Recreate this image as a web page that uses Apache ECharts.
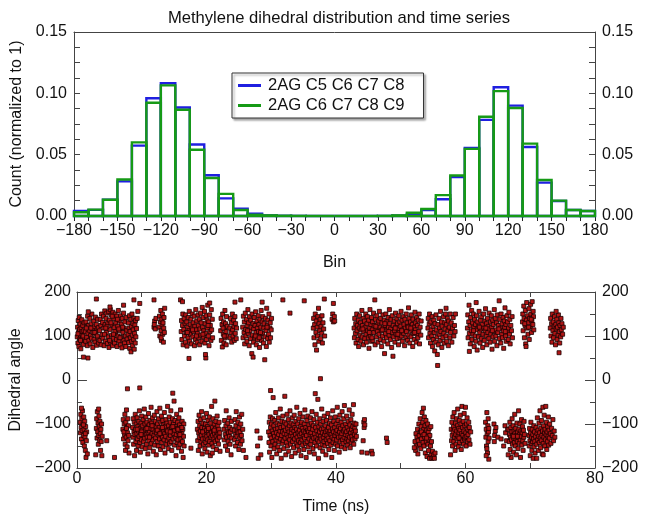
<!DOCTYPE html>
<html>
<head>
<meta charset="utf-8">
<script src="https://cdn.jsdelivr.net/npm/echarts@6/dist/echarts.min.js"></script>
<style>
html,body{margin:0;padding:0;background:#fff;}
#chart{width:648px;height:527px;}
</style>
</head>
<body>
<div id="chart"></div>
<script>
// ---------- DATA ----------
const chartTitle = 'Methylene dihedral distribution and time series';
const seriesNames = ['2AG C5 C6 C7 C8', '2AG C6 C7 C8 C9'];
const binLeftEdges = [-180,-170,-160,-150,-140,-130,-120,-110,-100,-90,-80,-70,-60,-50,-40,-30,-20,-10,0,10,20,30,40,50,60,70,80,90,100,110,120,130,140,150,160,170];
const binWidth = 10;
const countsC5C6C7C8 = [0.0041,0.0050,0.0133,0.0282,0.0574,0.0960,0.1082,0.0885,0.0583,0.0332,0.0144,0.0060,0.0019,0.0005,0.0002,0.0001,0,0,0,0,0,0.0001,0.0004,0.0016,0.0049,0.0136,0.0318,0.0555,0.0784,0.1050,0.0900,0.0563,0.0272,0.0122,0.0049,0.0041];
const countsC6C7C8C9 = [0.0030,0.0052,0.0133,0.0297,0.0600,0.0923,0.1065,0.0866,0.0540,0.0310,0.0180,0.0049,0.0010,0.0005,0.0002,0.0001,0,0,0,0,0,0.0001,0.0005,0.0027,0.0057,0.0170,0.0330,0.0547,0.0809,0.1018,0.0880,0.0590,0.0294,0.0125,0.0049,0.0041];
const histXTicks = {min:-180, max:180, step:30};
const histYTicks = {min:0, max:0.15, step:0.05};
const timeTicks = {min:0, max:80, step:20};
const angleTicks = {min:-200, max:200, step:100};

// time (ns), dihedral angle (deg) samples: upper band
const upperBandSamples = [
[0.05,98],[0.1,120],[0.15,84],[0.2,135],[0.25,108],[0.3,76],[0.35,142],[0.4,115],[0.45,93],[0.5,127],[0.55,102],[0.6,71],[0.65,118],[0.7,88],[0.75,137],[0.8,110],[0.85,96],[0.9,124],[1.0,81],[1.05,112],[1.1,130],[0.95,100],[0.15,105],[0.55,90],[1.0,52],
[1.3,110],[1.35,88],[1.4,132],[1.5,97],[1.55,120],[1.6,78],[1.65,145],[1.7,106],[1.8,124],[1.85,90],[1.9,113],[2.0,140],[2.05,82],[2.1,101],[2.2,128],[2.25,95],[2.3,150],[2.4,117],[2.45,74],[2.5,108],[2.6,134],[2.65,92],[2.7,121],[2.8,86],[2.85,143],[2.9,104],[3.0,126],[3.05,79],[3.1,114],[3.2,138],[3.25,96],[3.3,119],[3.35,84],[1.75,155],[2.15,118],[2.75,108],[3.15,100],[1.45,118],[1.7,50],[3.0,184],
[3.5,112],[3.55,90],[3.6,138],[3.7,124],[3.75,80],[3.8,150],[3.9,103],[3.95,131],[4.0,95],[4.1,145],[4.15,118],[4.2,78],[4.3,157],[4.35,126],[4.4,88],[4.5,140],[4.55,108],[4.6,152],[4.7,83],[4.75,130],[4.8,98],[4.9,155],[4.95,74],[5.0,136],[5.1,115],[5.15,160],[5.2,86],[5.3,148],[5.35,102],[5.4,125],[5.5,78],[5.55,154],[5.6,95],[5.7,140],[5.75,119],[5.8,84],[5.9,150],[5.95,106],[6.0,130],[6.1,92],[6.15,145],[6.2,76],[6.3,122],[6.35,100],[6.4,158],[6.5,88],[6.55,134],[6.6,112],[6.7,80],[6.75,146],[6.8,97],[6.9,127],[6.95,73],[7.0,140],[7.1,108],[7.15,90],[7.2,152],[7.3,118],[7.35,84],[7.4,132],[7.5,100],[7.55,76],[7.6,142],[7.7,113],[7.75,93],[4.25,104],[4.65,122],[5.05,90],[5.45,145],[5.85,110],[6.25,138],[6.65,96],[7.05,120],[5.25,130],[4.45,118],[5.65,104],[6.45,116],[7.2,170],[5.1,166],
[7.9,104],[7.95,130],[8.0,85],[8.05,118],[8.1,146],[8.15,72],[8.2,110],[8.25,96],[8.3,138],[8.35,64],[8.4,122],[8.45,88],[8.5,150],[8.55,102],[8.6,78],[8.65,128],[8.7,114],[8.75,92],[8.8,140],[8.85,70],[8.9,106],[8.95,125],[9.0,84],[9.05,135],[9.1,98],[9.2,117],[8.8,182],[9.7,174],[9.4,156],[9.3,140],
[11.9,182],[11.9,120],[12.0,134],[12.1,116],[12.2,140],[11.95,126],
[12.7,120],[12.75,145],[12.8,100],[12.9,132],[12.95,158],[13.0,112],[13.05,90],[13.1,138],[13.15,125],[13.2,150],[13.25,104],[13.3,130],[13.35,86],[13.4,118],[13.45,142],[13.5,108],[13.55,163],[13.0,96],
[16.0,182],[16.3,178],[16.1,110],[16.15,135],[16.2,92],[16.3,124],[16.35,150],[16.4,80],[16.5,115],[16.55,140],[16.6,100],[16.7,128],[16.75,86],[16.8,148],[16.9,108],[16.95,132],[17.0,77],[17.1,120],[17.15,96],[17.2,142],[17.3,112],[17.35,156],[17.4,88],[17.5,126],[17.55,104],[17.6,138],[17.7,82],[17.75,118],[17.8,150],[17.9,98],[17.95,130],[18.0,110],[18.1,145],[18.15,78],[18.2,122],[18.3,92],[18.35,160],[18.4,114],[18.5,134],[18.55,86],[18.6,106],[18.7,148],[18.75,124],[18.8,96],[18.9,138],[18.95,80],[19.0,116],[19.1,152],[19.15,102],[19.2,130],[19.3,88],[19.35,165],[19.4,120],[19.5,142],[19.55,98],[19.6,112],[19.7,156],[19.75,84],[19.8,128],[19.9,106],[19.95,146],[20.0,92],[20.1,136],[20.15,118],[20.2,170],[20.3,100],[20.35,132],[20.4,78],[20.5,148],[20.55,110],[20.6,124],[20.7,90],[20.75,160],[20.8,114],[20.9,138],[20.95,96],[17.3,49],[19.9,50],[19.85,58],[20.5,175],[17.05,108],[18.45,100],[19.45,104],[17.85,114],[20.25,124],
[22.2,112],[22.25,140],[22.3,90],[22.4,126],[22.45,75],[22.5,150],[22.6,104],[22.65,132],[22.7,84],[22.8,118],[22.85,158],[22.9,96],[22.95,128],[23.0,110],[23.05,80],[23.1,144],[23.15,100],[23.2,122],[22.55,118],[22.75,100],
[23.6,118],[23.65,96],[23.7,140],[23.8,108],[23.85,130],[23.9,86],[24.0,150],[24.05,114],[24.1,100],[24.2,136],[24.25,122],[24.3,90],[24.4,144],[24.45,106],[24.5,128],[24.6,94],[24.65,118],[24.4,177],[25.3,182],
[25.6,120],[25.65,96],[25.7,145],[25.8,108],[25.85,132],[25.9,82],[26.0,152],[26.05,115],[26.1,100],[26.2,138],[26.25,88],[26.3,124],[26.4,160],[26.45,106],[26.5,130],[26.6,78],[26.65,144],[26.7,112],[26.8,94],[26.85,136],[26.9,120],[27.0,60],[27.05,150],[27.1,102],[27.2,128],[27.25,86],[27.3,116],[27.4,142],[27.45,96],[27.5,124],[27.6,155],[27.65,108],[27.7,80],[27.8,134],[27.85,118],[27.9,92],[28.0,146],[28.05,110],[28.1,126],[28.2,74],[28.25,138],[28.3,100],[28.4,120],[28.45,158],[28.5,90],[28.6,132],[28.65,106],[28.7,144],[28.8,84],[28.85,118],[28.9,128],[29.0,46],[29.05,98],[29.1,140],[29.2,112],[29.25,76],[29.3,163],[29.4,124],[29.45,94],[29.5,136],[29.6,104],[29.65,150],[29.7,86],[29.8,118],[29.85,130],[29.9,96],[30.0,114],[30.05,140],[28.6,177],[27.2,52],[26.35,112],[27.55,100],[28.35,108],[29.35,120],[28.15,96],
[31.8,182],[32.9,152],[35.1,180],
[36.5,118],[36.55,140],[36.6,96],[36.7,126],[36.75,80],[36.8,150],[36.9,108],[36.95,134],[37.0,68],[37.1,120],[37.15,100],[37.2,144],[37.3,163],[37.35,88],[37.4,128],[37.5,112],[37.55,138],[37.6,3],[37.65,94],[37.7,122],[37.8,106],[37.85,146],[37.9,84],[38.0,130],[38.1,116],[38.2,184],[38.25,100],[39.6,174],
[39.4,138],[39.5,150],[39.6,132],[39.75,144],[39.8,134],
[42.8,118],[42.85,96],[42.9,140],[43.0,106],[43.05,128],[43.1,84],[43.2,150],[43.25,112],[43.3,124],[43.4,92],[43.45,136],[43.5,76],[43.6,118],[43.65,146],[43.7,102],[43.8,130],[43.85,88],[43.9,114],[44.0,158],[44.05,98],[44.1,124],[44.2,140],[44.25,80],[44.3,110],[44.4,134],[44.45,94],[44.5,120],[44.6,150],[44.65,104],[44.7,86],[44.8,128],[44.85,144],[44.9,112],[45.0,96],[45.05,136],[45.1,72],[45.2,118],[45.25,160],[45.3,100],[45.4,126],[45.45,88],[45.5,142],[45.6,114],[45.65,132],[45.7,90],[45.8,152],[45.85,108],[45.9,124],[46.0,182],[46.05,80],[46.1,138],[46.2,116],[46.25,98],[46.3,146],[46.4,110],[46.45,128],[46.5,86],[46.6,134],[46.65,104],[46.7,156],[46.8,120],[46.85,92],[46.9,140],[47.0,112],[47.05,76],[47.1,130],[47.2,100],[47.25,148],[47.3,118],[47.4,88],[47.45,136],[47.5,60],[47.6,124],[47.65,106],[47.7,150],[47.8,96],[47.85,132],[47.9,114],[48.0,82],[48.05,142],[48.1,120],[48.2,102],[48.25,160],[48.3,128],[48.4,92],[48.45,116],[48.5,138],[48.6,74],[48.65,108],[48.7,146],[48.8,54],[48.85,124],[48.9,98],[49.0,134],[49.05,112],[49.1,86],[49.2,152],[49.25,120],[49.3,104],[49.4,140],[49.45,94],[49.5,128],[49.6,116],[49.65,80],[49.7,146],[49.8,108],[49.85,132],[49.9,96],[50.0,122],[50.05,156],[50.1,100],[50.2,136],[50.25,88],[50.3,114],[50.4,144],[50.45,106],[50.5,126],[50.6,78],[50.65,138],[50.7,118],[50.8,96],[50.85,150],[50.9,110],[51.0,130],[51.05,90],[51.1,122],[51.2,164],[51.25,102],[51.3,140],[51.4,84],[51.45,116],[51.5,132],[51.6,98],[51.65,148],[51.7,112],[51.8,126],[51.85,76],[51.9,138],[52.0,106],[52.05,120],[52.1,92],[52.2,154],[52.25,114],[52.3,130],[52.4,86],[52.45,142],[52.5,104],[52.6,124],[52.65,96],[52.7,136],[52.8,110],[52.85,150],[52.9,82],[53.0,120],[53.1,102],[53.15,134],[44.15,116],[45.15,108],[46.15,122],[47.15,114],[48.15,110],[49.15,118],[50.15,112],[51.15,120],[52.15,108],[45.55,96],[47.55,128],[49.55,104],[51.55,118],
[54.2,118],[54.25,140],[54.3,96],[54.4,128],[54.45,150],[54.5,106],[54.6,84],[54.65,132],[54.7,114],[54.8,100],[54.85,144],[54.9,76],[55.0,122],[55.05,92],[55.1,136],[55.2,108],[55.25,66],[55.3,128],[55.4,86],[55.45,148],[55.5,114],[55.6,98],[55.65,58],[55.7,33],[55.75,126],[55.8,80],[55.9,140],[55.95,104],[56.0,118],[56.1,90],[56.15,156],[56.2,110],[56.3,132],[56.35,74],[56.4,122],[56.5,96],[56.6,144],[56.65,106],[56.7,84],[56.8,130],[56.85,116],[56.9,150],[57.0,100],[57.05,126],[57.1,88],[57.2,140],[57.3,112],[57.35,78],[57.4,134],[57.5,120],[57.6,96],[57.65,150],[57.7,108],[57.8,130],[57.9,86],[58.0,118],[58.1,142],[58.2,100],[58.3,124],[58.4,110],[58.45,150],[57.0,163],
[60.3,118],[60.35,148],[60.4,96],[60.5,132],[60.55,170],[60.6,106],[60.7,124],[60.75,82],[60.8,142],[60.9,112],[60.95,158],[61.0,92],[61.1,130],[61.15,104],[61.2,150],[61.3,120],[61.35,76],[61.4,138],[61.5,100],[61.55,126],[61.6,88],[61.7,146],[61.75,114],[61.8,68],[61.9,132],[62.0,98],[62.05,122],[62.1,156],[62.2,108],[62.25,84],[62.3,136],[62.4,116],[62.45,94],[62.5,144],[62.6,126],[62.65,74],[62.7,104],[62.8,150],[62.85,118],[62.9,90],[63.0,134],[63.05,112],[63.1,162],[63.2,100],[63.25,128],[63.3,80],[63.4,140],[63.45,108],[63.5,122],[63.6,94],[63.65,152],[63.7,116],[63.8,86],[63.85,132],[63.9,104],[64.0,146],[64.05,120],[64.1,70],[64.2,136],[64.25,98],[64.3,126],[64.4,110],[64.45,160],[64.5,88],[64.6,140],[64.65,114],[64.7,100],[64.8,130],[64.85,78],[64.9,148],[65.0,108],[65.1,124],[65.2,180],[65.25,94],[65.3,138],[65.4,118],[65.45,84],[65.5,150],[65.6,104],[65.65,128],[65.7,96],[65.8,142],[65.85,112],[65.9,72],[66.0,134],[66.05,120],[66.1,164],[66.2,100],[66.25,126],[66.3,88],[66.4,146],[66.45,110],[66.5,132],[66.6,92],[66.65,118],[66.7,154],[66.8,104],[66.85,138],[66.9,82],[67.0,124],[67.1,112],[67.2,144],[67.25,96],[61.25,112],[62.15,120],[63.15,118],[64.15,112],[65.15,116],[66.15,110],[61.65,176],[60.6,65],
[68.8,132],[68.85,150],[68.9,112],[69.0,168],[69.05,140],[69.1,96],[69.2,124],[69.25,158],[69.3,82],[69.4,136],[69.45,176],[69.5,118],[69.6,146],[69.65,104],[69.7,130],[69.8,162],[69.85,92],[69.9,140],[70.0,120],[70.05,172],[70.1,150],[70.2,108],[70.25,134],[70.3,178],[70.4,126],[70.45,156],[70.5,144],[70.55,114],[69.35,76],[69.15,128],[69.75,120],[70.15,138],
[73.1,118],[73.15,140],[73.2,100],[73.3,128],[73.35,86],[73.4,150],[73.5,112],[73.55,132],[73.6,96],[73.7,122],[73.75,144],[73.8,106],[73.9,80],[73.95,126],[74.0,116],[74.1,138],[74.15,92],[74.2,120],[74.3,102],[74.35,148],[74.4,130],[74.5,110],[74.55,84],[74.6,124],[74.7,98],[74.75,140],[74.8,114],[74.9,128],[75.0,104],[75.1,120],[74.45,62],[74.0,156]
];

// time (ns), dihedral angle (deg) samples: lower band
const lowerBandSamples = [
[0.5,-96],[0.55,-120],[0.6,-78],[0.65,-108],[0.7,-134],[0.75,-88],[0.8,-115],[0.85,-70],[0.9,-142],[0.95,-100],[1.0,-126],[1.05,-84],[1.1,-112],[1.15,-150],[1.2,-94],[1.25,-130],[1.3,-160],[1.35,-106],[1.4,-176],[1.45,-138],[1.5,-118],[1.6,-168],[0.7,-64],[1.0,-102],[1.3,-122],
[3.0,-110],[3.05,-88],[3.1,-132],[3.15,-72],[3.2,-118],[3.25,-98],[3.3,-146],[3.35,-126],[3.4,-82],[3.45,-106],[3.5,-138],[3.55,-94],[3.6,-122],[3.65,-160],[3.7,-112],[3.75,-140],[3.8,-100],[3.85,-172],[3.9,-128],[3.35,-66],[4.6,-138],[2.9,-170],[5.8,-176],[7.8,-20],[9.7,-18],
[7.1,-112],[7.15,-90],[7.2,-134],[7.3,-100],[7.35,-124],[7.4,-78],[7.45,-146],[7.5,-116],[7.55,-96],[7.6,-130],[7.65,-68],[7.7,-108],[7.75,-152],[7.8,-120],[7.85,-88],[7.9,-138],[7.95,-104],[8.0,-126],[8.05,-166],[7.5,-160],[7.25,-118],[7.65,-110],
[8.6,-108],[8.65,-130],[8.7,-88],[8.75,-146],[8.8,-118],[8.85,-96],[8.9,-172],[8.95,-124],[9.0,-78],[9.05,-112],[9.1,-140],[9.15,-100],[9.2,-160],[9.25,-122],[9.3,-86],[9.35,-134],[9.4,-106],[9.45,-150],[9.5,-116],[9.55,-94],[9.6,-128],[9.65,-70],[9.7,-142],[9.75,-110],[9.8,-164],[9.85,-120],[9.9,-98],[9.95,-136],[10.0,-82],[10.05,-114],[10.1,-152],[10.15,-104],[10.2,-126],[10.25,-90],[10.3,-140],[10.35,-118],[10.4,-66],[10.45,-132],[10.5,-100],[10.55,-156],[10.6,-112],[10.65,-84],[10.7,-124],[10.75,-146],[10.8,-96],[10.85,-130],[10.9,-108],[10.95,-168],[11.0,-120],[11.05,-76],[11.1,-138],[11.15,-102],[11.2,-116],[11.25,-154],[11.3,-92],[11.35,-128],[11.4,-110],[11.45,-62],[11.5,-144],[11.55,-98],[11.6,-122],[11.65,-86],[11.7,-136],[11.75,-112],[11.8,-162],[11.85,-104],[11.9,-126],[11.95,-80],[12.0,-148],[12.05,-118],[12.1,-94],[12.15,-132],[12.2,-106],[12.25,-170],[12.3,-120],[12.35,-72],[12.4,-140],[12.45,-100],[12.5,-114],[12.55,-150],[12.6,-88],[12.65,-126],[12.7,-108],[12.75,-134],[12.8,-64],[12.85,-116],[12.9,-158],[12.95,-96],[13.0,-124],[13.05,-82],[13.1,-142],[13.15,-110],[13.2,-130],[13.25,-92],[13.3,-152],[13.35,-118],[13.4,-102],[13.45,-136],[13.5,-74],[13.55,-122],[13.6,-166],[13.65,-106],[13.7,-128],[13.75,-90],[13.8,-146],[13.85,-114],[13.9,-98],[13.95,-138],[14.0,-60],[14.05,-120],[14.1,-156],[14.15,-104],[14.2,-132],[14.25,-84],[14.3,-144],[14.35,-112],[14.4,-96],[14.45,-126],[14.5,-70],[14.55,-140],[14.6,-108],[14.65,-160],[14.7,-118],[14.75,-88],[14.8,-30],[14.85,-134],[14.9,-100],[14.95,-122],[15.0,-48],[15.05,-148],[15.1,-114],[15.15,-92],[15.2,-130],[15.25,-106],[15.3,-172],[15.35,-124],[15.4,-78],[15.45,-142],[15.5,-110],[15.55,-96],[15.6,-136],[15.65,-118],[15.7,-154],[15.75,-86],[15.8,-126],[15.85,-102],[15.9,-146],[15.95,-116],[16.0,-68],[16.05,-134],[16.1,-108],[16.15,-162],[16.2,-122],[16.25,-94],[16.3,-140],[16.35,-112],[16.4,-176],[16.45,-128],[16.5,-100],[16.55,-150],[9.3,-112],[10.0,-118],[10.8,-110],[11.6,-104],[12.4,-114],[13.2,-108],[14.0,-116],[14.8,-106],[15.6,-112],[16.2,-108],[9.9,-124],[11.2,-130],[12.8,-122],[14.4,-118],[15.9,-124],[17.6,-155],
[18.6,-112],[18.65,-138],[18.7,-94],[18.75,-160],[18.8,-120],[18.85,-80],[18.9,-130],[18.95,-104],[19.0,-150],[19.05,-116],[19.1,-90],[19.15,-140],[19.2,-126],[19.25,-72],[19.3,-108],[19.35,-168],[19.4,-134],[19.45,-98],[19.5,-118],[19.55,-146],[19.6,-86],[19.65,-124],[19.7,-110],[19.75,-156],[19.8,-132],[19.85,-100],[19.9,-142],[19.95,-114],[20.0,-76],[20.05,-128],[20.1,-164],[20.15,-106],[20.2,-136],[20.25,-92],[20.3,-118],[20.35,-148],[20.4,-124],[20.45,-84],[20.5,-140],[20.55,-112],[20.6,-172],[20.65,-98],[20.7,-130],[20.75,-120],[20.8,-60],[20.85,-144],[20.9,-108],[20.95,-126],[21.0,-88],[21.05,-152],[21.1,-116],[21.15,-134],[21.2,-100],[21.25,-122],[21.3,-48],[21.35,-140],[21.4,-110],[21.45,-94],[21.5,-128],[21.55,-158],[21.6,-118],[21.65,-82],[21.7,-136],[21.75,-104],[21.8,-124],[21.85,-146],[21.9,-112],[21.95,-96],[22.0,-130],[22.05,-120],[22.1,-162],[19.4,-118],[20.3,-110],[21.2,-114],[20.9,-166],
[22.7,-112],[22.75,-136],[22.8,-92],[22.9,-124],[22.95,-150],[23.0,-104],[23.05,-70],[23.1,-130],[23.2,-116],[23.25,-160],[23.3,-98],[23.35,-140],[23.4,-120],[23.5,-86],[23.55,-128],[23.6,-108],[23.65,-146],[23.7,-118],[23.8,-170],[23.85,-94],[23.9,-132],[23.95,-112],
[24.3,-114],[24.35,-136],[24.4,-90],[24.45,-124],[24.5,-150],[24.55,-104],[24.6,-72],[24.7,-128],[24.75,-116],[24.8,-142],[24.85,-96],[24.9,-120],[25.0,-158],[25.05,-108],[25.1,-84],[25.15,-132],[25.2,-118],[25.25,-146],[25.3,-100],[25.4,-126],[25.45,-78],[25.5,-138],[25.6,-112],[25.7,-160],[26.1,-176],
[27.8,-116],[27.9,-150],[28.0,-178],[28.3,-132],[28.4,-170],[29.9,-24],
[29.6,-118],[29.65,-142],[29.7,-96],[29.75,-164],[29.8,-126],[29.85,-84],[29.9,-108],[29.95,-150],[30.0,-132],[30.05,-100],[30.1,-176],[30.15,-116],[30.2,-88],[30.25,-140],[30.3,-40],[30.35,-122],[30.4,-104],[30.45,-156],[30.5,-128],[30.55,-92],[30.6,-146],[30.65,-112],[30.7,-74],[30.75,-136],[30.8,-120],[30.85,-168],[30.9,-98],[30.95,-130],[31.0,-110],[31.05,-152],[31.1,-86],[31.15,-124],[31.2,-140],[31.25,-102],[31.3,-160],[31.35,-116],[31.4,-66],[31.45,-134],[31.5,-108],[31.55,-178],[31.6,-126],[31.65,-94],[31.7,-144],[31.75,-118],[31.8,-82],[31.85,-138],[31.9,-106],[31.95,-156],[32.0,-122],[32.05,-96],[32.1,-37],[32.15,-132],[32.2,-114],[32.25,-170],[32.3,-100],[32.35,-142],[32.4,-124],[32.45,-78],[32.5,-150],[32.55,-110],[32.6,-130],[32.65,-90],[32.7,-162],[32.75,-118],[32.8,-104],[32.85,-136],[32.9,-70],[32.95,-126],[33.0,-146],[33.05,-98],[33.1,-120],[33.15,-174],[33.2,-112],[33.25,-86],[33.3,-140],[33.35,-128],[33.4,-102],[33.45,-154],[33.5,-116],[33.55,-80],[33.6,-134],[33.65,-108],[33.7,-166],[33.75,-124],[33.8,-94],[33.85,-144],[33.9,-112],[33.95,-62],[34.0,-130],[34.05,-150],[34.1,-100],[34.15,-120],[34.2,-138],[34.25,-88],[34.3,-160],[34.35,-114],[34.4,-126],[34.45,-76],[34.5,-142],[34.55,-106],[34.6,-172],[34.65,-122],[34.7,-96],[34.75,-136],[34.8,-110],[34.85,-148],[34.9,-84],[34.95,-128],[35.0,-116],[35.05,-158],[35.1,-100],[35.15,-132],[35.2,-68],[35.25,-120],[35.3,-144],[35.35,-108],[35.4,-176],[35.45,-126],[35.5,-92],[35.55,-140],[35.6,-114],[35.65,-82],[35.7,-152],[35.75,-118],[35.8,-102],[35.85,-134],[35.9,-164],[35.95,-110],[36.0,-124],[36.05,-86],[36.1,-146],[36.15,-120],[36.2,-98],[36.25,-138],[36.3,-72],[36.35,-128],[36.4,-112],[36.45,-156],[36.5,-104],[36.55,-132],[36.6,-90],[36.65,-168],[36.7,-122],[36.75,-142],[36.8,-31],[36.85,-108],[36.9,-130],[36.95,-78],[37.0,-150],[37.05,-116],[37.1,-96],[37.15,-136],[37.2,-44],[37.25,-124],[37.3,-178],[37.35,-106],[37.4,-140],[37.45,-118],[37.5,-88],[37.55,-154],[37.6,-128],[37.65,-100],[37.7,-134],[37.75,-112],[37.8,-66],[37.85,-146],[37.9,-120],[37.95,-162],[38.0,-94],[38.05,-130],[38.1,-110],[38.15,-140],[38.2,-82],[38.25,-124],[38.3,-150],[38.35,-104],[38.4,-118],[38.45,-170],[38.5,-136],[38.55,-92],[38.6,-126],[38.65,-114],[38.7,-144],[38.75,-76],[38.8,-132],[38.85,-108],[38.9,-158],[38.95,-120],[39.0,-98],[39.05,-138],[39.1,-116],[39.15,-86],[39.2,-148],[39.25,-124],[39.3,-102],[39.35,-176],[39.4,-130],[39.45,-112],[39.5,-70],[39.55,-142],[39.6,-118],[39.65,-94],[39.7,-134],[39.75,-160],[39.8,-108],[39.85,-126],[39.9,-84],[39.95,-146],[40.0,-120],[40.05,-100],[40.1,-136],[40.15,-114],[40.2,-62],[40.25,-150],[40.3,-124],[40.35,-92],[40.4,-130],[40.45,-106],[40.5,-164],[40.55,-118],[40.6,-80],[40.65,-140],[40.7,-110],[40.75,-128],[40.8,-96],[40.85,-152],[40.9,-122],[40.95,-72],[41.0,-136],[41.05,-104],[41.1,-144],[41.15,-116],[41.2,-88],[41.25,-130],[41.3,-58],[41.35,-112],[41.4,-156],[41.45,-124],[41.5,-100],[41.55,-140],[41.6,-118],[41.65,-82],[41.7,-134],[41.75,-108],[41.8,-148],[41.85,-126],[41.9,-94],[41.95,-138],[42.0,-114],[42.05,-68],[42.1,-130],[42.15,-102],[42.2,-154],[42.25,-120],[42.3,-90],[42.35,-142],[42.4,-112],[42.45,-128],[42.5,-78],[42.55,-136],[42.6,-106],[42.65,-120],[42.7,-56],[42.75,-146],[42.8,-98],[42.85,-124],[42.9,-110],[42.95,-134],[43.0,-116],[43.1,-100],[43.15,-128],
[44.2,-138],[44.3,-96],[44.35,-108],[44.4,-90],[44.45,-102],[44.0,-164],[44.8,-166],[45.5,-162],[45.6,-168],[47.8,-132],[47.9,-142],
[52.2,-140],[52.3,-160],[52.35,-122],[52.4,-150],[52.5,-130],[52.6,-112],[52.65,-168],[52.7,-138],[52.8,-100],[52.85,-126],[52.9,-146],[53.0,-88],[53.05,-118],[53.1,-156],[53.15,-106],[53.2,-134],[53.3,-74],[53.35,-124],[53.4,-96],[53.45,-142],[53.5,-64],[53.55,-112],[53.6,-150],[53.65,-84],[53.7,-130],[53.75,-104],[53.8,-166],[53.85,-120],[53.9,-92],[53.95,-140],[54.0,-114],[54.05,-174],[54.1,-128],[54.15,-100],[54.2,-146],[54.25,-118],[54.3,-160],[54.35,-136],[54.4,-110],[54.45,-178],[54.5,-126],[54.6,-150],[54.65,-106],[54.7,-170],[54.75,-140],[54.8,-178],[54.9,-162],[55.0,-176],[55.1,-170],[55.2,-178],[55.3,-166],[53.2,-118],[53.6,-124],[54.0,-132],[52.1,-154],
[57.8,-112],[57.85,-138],[57.9,-96],[57.95,-126],[58.0,-150],[58.05,-84],[58.1,-118],[58.15,-106],[58.2,-140],[58.25,-74],[58.3,-130],[58.35,-112],[58.4,-160],[58.45,-98],[58.5,-124],[58.55,-146],[58.6,-88],[58.65,-116],[58.7,-134],[58.75,-104],[58.8,-66],[58.85,-128],[58.9,-152],[58.95,-110],[59.0,-120],[59.05,-92],[59.1,-142],[59.15,-114],[59.2,-80],[59.25,-132],[59.3,-100],[59.35,-158],[59.4,-122],[59.45,-60],[59.5,-138],[59.55,-108],[59.6,-126],[59.65,-94],[59.7,-146],[59.75,-116],[59.8,-76],[59.85,-134],[59.9,-104],[59.95,-130],[60.0,-62],[60.05,-120],[60.1,-150],[60.15,-100],[60.2,-128],[60.25,-86],[60.3,-140],[60.35,-112],[60.4,-124],[60.5,-96],[60.55,-136],[60.6,-108],[60.7,-146],[60.8,-118],[57.7,-170],[59.0,-132],
[63.1,-96],[63.15,-130],[63.2,-112],[63.25,-150],[63.3,-74],[63.35,-122],[63.4,-166],[63.45,-104],[63.5,-140],[63.55,-118],[63.6,-180],[63.65,-132],[63.3,-156],[63.5,-88],[63.2,-172],[63.6,-110],
[64.4,-100],[64.5,-126],[64.6,-116],[64.7,-108],[65.0,-130],[64.45,-140],[66.1,-104],[66.2,-120],[66.35,-138],[66.5,-112],[65.5,-134],[65.9,-150],
[66.7,-112],[66.75,-140],[66.8,-124],[66.85,-96],[66.9,-158],[66.95,-130],[67.0,-108],[67.05,-176],[67.1,-136],[67.15,-118],[67.2,-88],[67.25,-146],[67.3,-126],[67.35,-104],[67.4,-164],[67.45,-132],[67.5,-116],[67.55,-142],[67.6,-78],[67.65,-122],[67.7,-150],[67.75,-110],[67.8,-134],[67.85,-170],[67.9,-126],[67.95,-98],[68.0,-140],[68.05,-118],[68.1,-156],[68.15,-130],[68.2,-70],[68.25,-112],[68.3,-144],[68.35,-124],[68.4,-100],[68.45,-136],[68.5,-176],[68.55,-116],[68.6,-128],[68.65,-90],[68.7,-148],[68.75,-120],[68.8,-106],[68.85,-138],[68.9,-160],[68.95,-114],[69.0,-130],[69.05,-94],[69.1,-124],[69.2,-144],[68.0,-128],[67.4,-128],[66.6,-170],
[69.8,-126],[69.85,-150],[69.9,-110],[69.95,-138],[70.0,-172],[70.05,-120],[70.1,-96],[70.15,-144],[70.2,-130],[70.25,-160],[70.3,-112],[70.35,-140],[70.4,-124],[70.45,-178],[70.5,-134],[70.55,-104],[70.6,-152],[70.65,-118],[70.7,-140],[70.75,-166],[70.8,-128],[70.9,-108],[71.0,-146],[71.05,-122],[71.1,-86],[71.15,-136],[71.2,-114],[71.25,-160],[71.3,-128],[71.35,-98],[71.4,-142],[71.45,-120],[71.5,-70],[71.55,-132],[71.6,-154],[71.65,-110],[71.7,-138],[71.75,-92],[71.8,-126],[71.85,-168],[71.9,-116],[71.95,-62],[72.0,-144],[72.05,-104],[72.1,-130],[72.15,-80],[72.2,-120],[72.25,-150],[72.3,-112],[72.35,-136],[72.4,-60],[72.45,-124],[72.5,-96],[72.55,-158],[72.6,-118],[72.65,-140],[72.7,-106],[72.75,-128],[72.8,-84],[72.85,-148],[72.9,-114],[72.95,-132],[73.0,-100],[73.1,-122],[73.2,-144],[73.3,-110],[73.4,-126],[73.5,-90],[73.6,-138],[73.7,-116],[73.8,-130],[71.0,-178],[72.0,-170]
];

// ---------- CHART ----------
const FONT = '"Liberation Sans", Arial, sans-serif';
const TXT = '#111';
const AX = '#444';
const colors = ['#1f1fe0', '#169a16'];

function minus(v){ return v < 0 ? '\u2212' + Math.abs(v) : String(v); }

function histData(values){
  return binLeftEdges.map((b, i) => [b, b + binWidth, values[i]]);
}
function renderBin(color){
  return function(params, api){
    const p0 = api.coord([api.value(0), api.value(2)]);
    const p1 = api.coord([api.value(1), 0]);
    return {
      type: 'rect',
      shape: {x: p0[0], y: p0[1], width: p1[0] - p0[0], height: p1[1] - p0[1]},
      style: {fill: 'none', stroke: color, lineWidth: 2.4}
    };
  };
}

const baseLabel = {fontFamily: FONT, fontSize: 16, color: TXT};

const option = {
  animation: false,
  backgroundColor: '#fff',
  textStyle: {fontFamily: FONT},
  title: {
    text: chartTitle, left: 334, top: 5, textAlign: 'center',
    textStyle: {fontFamily: FONT, fontSize: 16.6, fontWeight: 'normal', color: TXT}
  },
  legend: {
    orient: 'vertical', left: 232, top: 73,
    data: seriesNames.map(n => ({name: n, icon: 'rect'})),
    itemWidth: 23, itemHeight: 3, itemGap: 3,
    padding: [4, 19, 4, 6],
    borderColor: '#333', borderWidth: 1, backgroundColor: '#fff',
    shadowColor: 'rgba(0,0,0,0.35)', shadowBlur: 2, shadowOffsetX: 2, shadowOffsetY: 2,
    textStyle: {fontFamily: FONT, fontSize: 16.6, color: TXT, padding: [0,0,0,2]},
    selectedMode: false
  },
  grid: [
    {left: 74, top: 32, width: 521, height: 184},
    {left: 74, top: 292, width: 521, height: 176}
  ],
  xAxis: [
    {gridIndex: 0, type: 'value', position: 'bottom', min: histXTicks.min, max: histXTicks.max, interval: histXTicks.step,
     name: 'Bin', nameLocation: 'middle', nameGap: 39, nameTextStyle: baseLabel,
     axisLine: {show: true, onZero: false, lineStyle: {color: '#222', width: 1}},
     axisTick: {show: true, inside: false, length: 5, lineStyle: {color: '#222'}},
     minorTick: {show: true, splitNumber: 3, length: 5, lineStyle: {color: '#222'}},
     splitLine: {show: false},
     axisLabel: Object.assign({margin: 7, formatter: minus}, baseLabel)},
    {gridIndex: 0, type: 'value', position: 'top', min: histXTicks.min, max: histXTicks.max, interval: histXTicks.step,
     axisLine: {show: true, onZero: false, lineStyle: {color: AX}},
     axisTick: {show: false}, axisLabel: {show: false}, splitLine: {show: false}},
    {gridIndex: 1, type: 'value', position: 'bottom', min: timeTicks.min, max: timeTicks.max, interval: timeTicks.step,
     name: 'Time (ns)', nameLocation: 'middle', nameGap: 31, nameTextStyle: baseLabel,
     axisLine: {show: true, onZero: false, lineStyle: {color: AX}},
     axisTick: {show: true, inside: true, length: 5, lineStyle: {color: AX}},
     minorTick: {show: true, splitNumber: 2, length: 5, lineStyle: {color: AX}},
     splitLine: {show: false},
     axisLabel: Object.assign({margin: 3, formatter: minus}, baseLabel)},
    {gridIndex: 1, type: 'value', position: 'top', min: timeTicks.min, max: timeTicks.max, interval: timeTicks.step,
     axisLine: {show: true, onZero: false, lineStyle: {color: AX}},
     axisTick: {show: true, inside: true, length: 5, lineStyle: {color: AX}},
     minorTick: {show: true, splitNumber: 2, length: 5, lineStyle: {color: AX}},
     axisLabel: {show: false}, splitLine: {show: false}}
  ],
  yAxis: [
    {gridIndex: 0, type: 'value', position: 'left', min: histYTicks.min, max: histYTicks.max, interval: histYTicks.step,
     name: 'Count (normalized to 1)', nameLocation: 'middle', nameGap: 46, nameTextStyle: baseLabel,
     axisLine: {show: true, onZero: false, lineStyle: {color: AX}},
     axisTick: {show: true, inside: true, length: 6, lineStyle: {color: AX}},
     minorTick: {show: true, splitNumber: 4, length: 6, lineStyle: {color: AX}},
     splitLine: {show: false},
     axisLabel: Object.assign({margin: 7, formatter: v => v.toFixed(2)}, baseLabel)},
    {gridIndex: 0, type: 'value', position: 'right', min: histYTicks.min, max: histYTicks.max, interval: histYTicks.step,
     axisLine: {show: true, onZero: false, lineStyle: {color: AX}},
     axisTick: {show: true, inside: true, length: 6, lineStyle: {color: AX}},
     minorTick: {show: true, splitNumber: 4, length: 6, lineStyle: {color: AX}},
     splitLine: {show: false},
     axisLabel: Object.assign({margin: 7, formatter: v => v.toFixed(2)}, baseLabel)},
    {gridIndex: 1, type: 'value', position: 'left', min: angleTicks.min, max: angleTicks.max, interval: angleTicks.step,
     name: 'Dihedral angle', nameLocation: 'middle', nameGap: 47, nameTextStyle: baseLabel,
     axisLine: {show: true, onZero: false, lineStyle: {color: AX}},
     axisTick: {show: true, inside: true, length: 10, lineStyle: {color: AX}},
     minorTick: {show: true, splitNumber: 2, length: 5, lineStyle: {color: AX}},
     splitLine: {show: false},
     axisLabel: Object.assign({margin: 6, formatter: minus}, baseLabel)},
    {gridIndex: 1, type: 'value', position: 'right', min: angleTicks.min, max: angleTicks.max, interval: angleTicks.step,
     axisLine: {show: true, onZero: false, lineStyle: {color: AX}},
     axisTick: {show: true, inside: true, length: 10, lineStyle: {color: AX}},
     minorTick: {show: true, splitNumber: 2, length: 5, lineStyle: {color: AX}},
     splitLine: {show: false},
     axisLabel: Object.assign({margin: 7, formatter: minus}, baseLabel)}
  ],
  series: [
    {name: seriesNames[0], type: 'custom', xAxisIndex: 0, yAxisIndex: 0,
     itemStyle: {color: colors[0]}, renderItem: renderBin(colors[0]),
     encode: {x: [0, 1], y: 2}, data: histData(countsC5C6C7C8), z: 3},
    {name: seriesNames[1], type: 'custom', xAxisIndex: 0, yAxisIndex: 0,
     itemStyle: {color: colors[1]}, renderItem: renderBin(colors[1]),
     encode: {x: [0, 1], y: 2}, data: histData(countsC6C7C8C9), z: 4},
    {type: 'scatter', xAxisIndex: 2, yAxisIndex: 2, symbol: 'rect', symbolSize: 4,
     itemStyle: {color: '#b01515', borderColor: '#1a0000', borderWidth: 0.8, opacity: 1},
     data: upperBandSamples, silent: true, progressive: 0},
    {type: 'scatter', xAxisIndex: 2, yAxisIndex: 2, symbol: 'rect', symbolSize: 4,
     itemStyle: {color: '#b01515', borderColor: '#1a0000', borderWidth: 0.8, opacity: 1},
     data: lowerBandSamples, silent: true, progressive: 0}
  ]
};

const chart = echarts.init(document.getElementById('chart'), null, {renderer: 'canvas'});
chart.setOption(option);
</script>
</body>
</html>
